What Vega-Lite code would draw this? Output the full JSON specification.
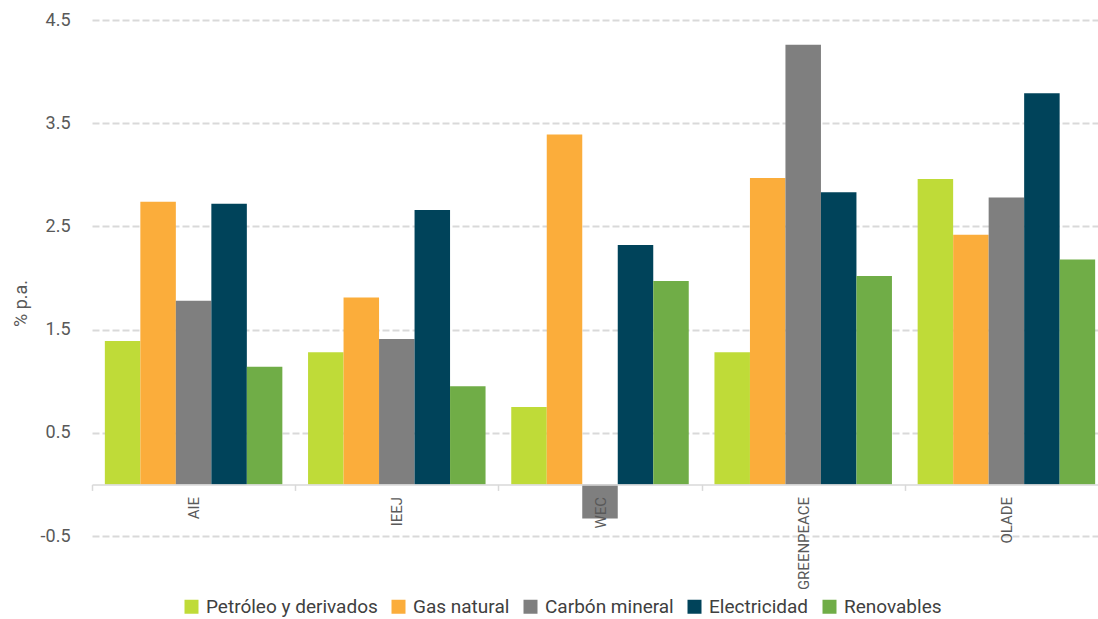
{
  "$schema": "https://vega.github.io/schema/vega-lite/v6.json",
  "width": 1006,
  "height": 516,
  "autosize": {"type": "none"},
  "padding": {"left": 92, "top": 20, "right": 0, "bottom": 83},
  "config": {
    "font": "Roboto",
    "view": {"stroke": null},
    "axis": {"labelFont": "Roboto", "titleFont": "Roboto", "labelColor": "#595959", "titleColor": "#595959"},
    "legend": {"labelFont": "Roboto", "labelColor": "#404040"}
  },
  "data": {
    "values": [
      {"fuente": "AIE", "energia": "Petróleo y derivados", "valor": 1.39},
      {"fuente": "AIE", "energia": "Gas natural", "valor": 2.74},
      {"fuente": "AIE", "energia": "Carbón mineral", "valor": 1.78},
      {"fuente": "AIE", "energia": "Electricidad", "valor": 2.72},
      {"fuente": "AIE", "energia": "Renovables", "valor": 1.14},
      {"fuente": "IEEJ", "energia": "Petróleo y derivados", "valor": 1.28},
      {"fuente": "IEEJ", "energia": "Gas natural", "valor": 1.81},
      {"fuente": "IEEJ", "energia": "Carbón mineral", "valor": 1.41},
      {"fuente": "IEEJ", "energia": "Electricidad", "valor": 2.66},
      {"fuente": "IEEJ", "energia": "Renovables", "valor": 0.95},
      {"fuente": "WEC", "energia": "Petróleo y derivados", "valor": 0.75},
      {"fuente": "WEC", "energia": "Gas natural", "valor": 3.39},
      {"fuente": "WEC", "energia": "Carbón mineral", "valor": -0.33},
      {"fuente": "WEC", "energia": "Electricidad", "valor": 2.32},
      {"fuente": "WEC", "energia": "Renovables", "valor": 1.97},
      {"fuente": "GREENPEACE", "energia": "Petróleo y derivados", "valor": 1.28},
      {"fuente": "GREENPEACE", "energia": "Gas natural", "valor": 2.97},
      {"fuente": "GREENPEACE", "energia": "Carbón mineral", "valor": 4.26},
      {"fuente": "GREENPEACE", "energia": "Electricidad", "valor": 2.83},
      {"fuente": "GREENPEACE", "energia": "Renovables", "valor": 2.02},
      {"fuente": "OLADE", "energia": "Petróleo y derivados", "valor": 2.96},
      {"fuente": "OLADE", "energia": "Gas natural", "valor": 2.42},
      {"fuente": "OLADE", "energia": "Carbón mineral", "valor": 2.78},
      {"fuente": "OLADE", "energia": "Electricidad", "valor": 3.79},
      {"fuente": "OLADE", "energia": "Renovables", "valor": 2.18}
    ]
  },
  "mark": {"type": "bar", "clip": false},
  "encoding": {
    "x": {
      "field": "fuente",
      "type": "nominal",
      "sort": ["AIE", "IEEJ", "WEC", "GREENPEACE", "OLADE"],
      "scale": {"paddingInner": 0, "paddingOuter": 0, "rangeMax": 1016},
      "axis": {
        "title": null,
        "orient": "bottom",
        "offset": -51.6,
        "zindex": 1,
        "domainColor": "#d9d9d9",
        "domainWidth": 1.5,
        "tickBand": "extent",
        "tickColor": "#d9d9d9",
        "tickWidth": 1.5,
        "tickSize": 6,
        "labelAngle": -90,
        "labelAlign": "right",
        "labelBaseline": "middle",
        "labelPadding": 6,
        "labelFontSize": 15,
        "labelColor": "#595959",
        "grid": false
      }
    },
    "xOffset": {
      "field": "energia",
      "type": "nominal",
      "sort": ["Petróleo y derivados", "Gas natural", "Carbón mineral", "Electricidad", "Renovables"],
      "scale": {"paddingInner": 0, "paddingOuter": 0.362}
    },
    "y": {
      "field": "valor",
      "type": "quantitative",
      "scale": {"domain": [-0.5, 4.5], "nice": false, "zero": false},
      "axis": {
        "title": "% p.a.",
        "titleFontSize": 18,
        "titleFontWeight": "normal",
        "titleX": -71,
        "titleY": 283,
        "titleAngle": -90,
        "titleAlign": "center",
        "titleBaseline": "middle",
        "values": [-0.5, 0.5, 1.5, 2.5, 3.5, 4.5],
        "labelExpr": "datum.value < 0 ? '-' + format(-datum.value, '.1f') : format(datum.value, '.1f')",
        "domain": false,
        "ticks": false,
        "labelPadding": 22,
        "labelFontSize": 18,
        "grid": true,
        "gridColor": "#d9d9d9",
        "gridWidth": 2,
        "gridDash": [7, 3]
      }
    },
    "y2": {"datum": 0},
    "color": {
      "field": "energia",
      "type": "nominal",
      "sort": ["Petróleo y derivados", "Gas natural", "Carbón mineral", "Electricidad", "Renovables"],
      "scale": {
        "domain": ["Petróleo y derivados", "Gas natural", "Carbón mineral", "Electricidad", "Renovables"],
        "range": ["#bfdb38", "#fbad3b", "#7f7f7f", "#00435a", "#70ad47"]
      },
      "legend": {
        "title": null,
        "orient": "none",
        "direction": "horizontal",
        "legendX": 90,
        "legendY": 577,
        "symbolType": "square",
        "symbolSize": 196,
        "symbolStrokeWidth": 0,
        "symbolOpacity": 1,
        "labelFontSize": 19,
        "labelOffset": 5,
        "columnPadding": 11,
        "labelLimit": 300
      }
    }
  }
}
